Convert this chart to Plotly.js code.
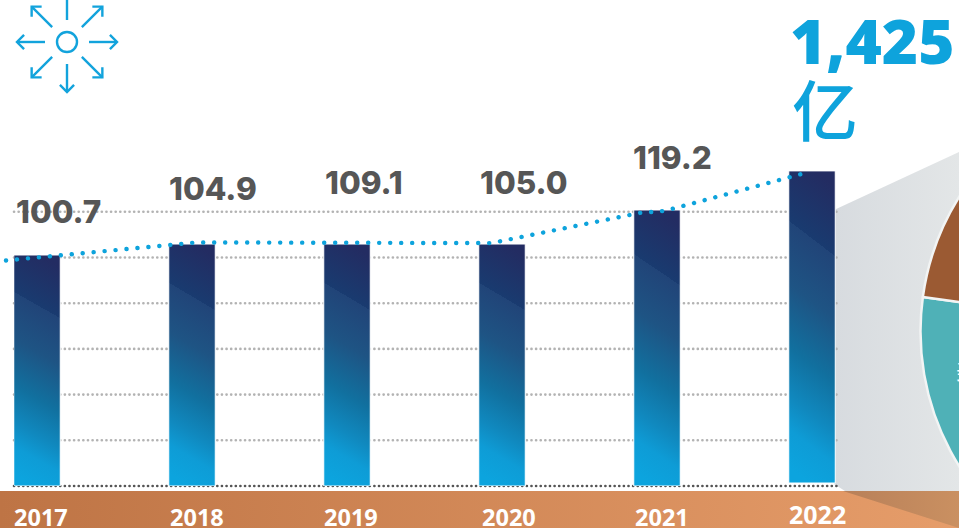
<!DOCTYPE html>
<html><head><meta charset="utf-8">
<script src="https://cdn.plot.ly/plotly-3.0.1.min.js"></script>
<style>html,body{margin:0;padding:0;width:959px;height:528px;overflow:hidden;background:#fff}#c{width:1500px;height:600px}</style>
</head><body><div id="c"></div>
<script>
// ---- data ----
const years = [2017, 2018, 2019, 2020, 2021, 2022];
const valueLabels = ['100.7', '104.9', '109.1', '105.0', '119.2'];
const barHeights = [101.1, 105.9, 105.9, 105.9, 120.8, 136.6];
const barBases = [0, 0, 0, 0, 0, 1.3];
const trendYears = [2016.8, 2017.16, 2017.86, 2018.03, 2019.93, 2020.89, 2021.05, 2021.93];
const trendValues = [98.7, 101.1, 105.5, 106.6, 106.3, 119.5, 120.4, 136.5];
const gridValues = [20, 40, 60, 80, 100, 120];
const totalLabel = '1,425';
const totalUnit = '亿';
const pieLabels = ['蓝', '棕', '其他'];
const pieValues = [40, 30, 30];

// ---- layout helpers (page pixels → paper) ----
const W = 1500, H = 600;
const px = x => x / W, py = y => 1 - y / H;
const pathOf = pts => 'M' + pts.map(p => px(p[0]) + ',' + py(p[1])).join('L');
const polygon = (pts, fill) => ({type: 'path', xref: 'paper', yref: 'paper', layer: 'below',
  path: pathOf(pts) + 'Z', fillcolor: fill, line: {width: 0}});
const stroke = pts => ({type: 'path', xref: 'paper', yref: 'paper', layer: 'above',
  path: pathOf(pts), line: {color: '#12a3dc', width: 2.4}});

// x axis: 2017 sits at px 37, one year = 155 px
const xAt = p => 2017 + (p - 37) / 155;
const shapes = [
  polygon([[0, 491], [959, 491], [959, 540], [0, 540]], '#d08a58'),          // 0 band
  polygon([[834, 210], [959, 152], [959, 491], [845, 491], [834, 484]], '#dde0e2'), // 1 fan
  polygon([[843, 491], [959, 491], [959, 528]], '#c28a5c'),                  // 2 fan over band
  {type: 'line', xref: 'paper', yref: 'paper', layer: 'below', x0: px(14), x1: px(838), y0: py(486), y1: py(486),
    line: {color: '#555', width: 2.6, dash: '2px,2.67px'}}
];
// icon: ring and eight arrows
const cx = 67, cy = 42;
shapes.push({type: 'circle', xref: 'paper', yref: 'paper', layer: 'above',
  x0: px(cx - 10), x1: px(cx + 10), y0: py(cy + 10), y1: py(cy - 10), line: {color: '#12a3dc', width: 2.4}});
for (let i = 0; i < 8; i++) {
  const a = i * Math.PI / 4, ux = Math.cos(a), uy = Math.sin(a);
  const R0 = i % 2 ? 21 : 22, R1 = 50;
  const tip = [cx + ux * R1, cy + uy * R1];
  shapes.push(stroke([[cx + ux * R0, cy + uy * R0], tip]));
  const leg = s => { const b = a + Math.PI + s * Math.PI / 4; return [tip[0] + Math.cos(b) * 10, tip[1] + Math.sin(b) * 10]; };
  shapes.push(stroke([leg(1), tip, leg(-1)]));
}

// label offsets from the bar centre (px) and text rows
const valueShiftX = [21, 20.5, 16.5, 21.5, 15.5];
const valueRowY = [212, 189, 182, 182.5, 157];
const yearShiftX = [3.5, 4.5, 3.5, 6.5, 4.5, 5.5];
const annotations = [];
valueLabels.forEach((t, i) => annotations.push({text: t, xref: 'x', x: years[i], xshift: valueShiftX[i],
  yref: 'paper', y: py(valueRowY[i]), showarrow: false, xanchor: 'center', yanchor: 'middle',
  font: {family: 'Inter', size: 31.5, color: '#565656', weight: 800}}));
years.forEach((t, i) => annotations.push({text: String(t), xref: 'x', x: t, xshift: yearShiftX[i],
  yref: 'paper', y: py(i === 5 ? 514 : 517), showarrow: false, xanchor: 'center', yanchor: 'middle',
  font: {family: 'Noto Sans', size: i === 5 ? 25 : 23.5, color: '#fff', weight: 700}}));
annotations.push({text: totalLabel, xref: 'paper', yref: 'paper', x: px(872), y: py(40), showarrow: false,
  xanchor: 'center', yanchor: 'middle', font: {family: 'Noto Sans', size: 62, color: '#0ea3dc', weight: 900}});
annotations.push({text: totalUnit, xref: 'paper', yref: 'paper', x: px(825), y: py(107), showarrow: false,
  xanchor: 'center', yanchor: 'middle', font: {family: 'Noto Sans CJK SC', size: 66, color: '#0ea3dc', weight: 500}});
annotations.push({text: '美', xref: 'paper', yref: 'paper', x: px(967), y: py(369), showarrow: false,
  xanchor: 'center', yanchor: 'middle', font: {family: 'Noto Sans CJK SC', size: 23, color: '#fff'}});

const traces = [
  {type: 'pie', labels: pieLabels, values: pieValues, sort: false, direction: 'clockwise', rotation: 133.8,
   domain: {x: [px(920.5), px(1427.5)], y: [py(585), py(78)]}, textinfo: 'none', hoverinfo: 'skip',
   marker: {colors: ['#4fb1b7', '#9b5a33', '#c9ced2'], line: {color: '#f2f4f4', width: 2.5}}},
  {type: 'bar', x: years, y: barHeights, base: barBases, width: 0.3, hoverinfo: 'skip',
   marker: {color: '#1b4f82', line: {color: '#fff', width: 1}}},
  {type: 'scatter', mode: 'lines', x: trendYears, y: trendValues, xaxis: 'x2', yaxis: 'y2', hoverinfo: 'skip',
   line: {color: '#0ea3dc', width: 4.4, dash: '0.1px,11px'}}
];

const hidden = {showgrid: false, zeroline: false, showline: false, showticklabels: false, ticks: ''};
const layout = {
  width: W, height: H, margin: {l: 0, r: 0, t: 0, b: 0, pad: 0},
  paper_bgcolor: '#fff', plot_bgcolor: 'rgba(0,0,0,0)', showlegend: false,
  xaxis: {...hidden, type: 'linear', range: [xAt(14), xAt(838)], domain: [px(14), px(838)]},
  yaxis: {range: [0, 150], domain: [py(486), py(143.25)], tickmode: 'array', tickvals: gridValues,
    showticklabels: false, ticks: '', zeroline: false, showline: false,
    showgrid: true, gridcolor: '#b3b3b3', gridwidth: 2.6, griddash: '2px,2.67px'},
  // the trend line runs on past the left end of the grid
  xaxis2: {...hidden, type: 'linear', anchor: 'y2', range: [xAt(0), xAt(838)], domain: [0, px(838)]},
  yaxis2: {...hidden, anchor: 'x2', range: [0, 150], domain: [py(486), py(143.25)]},
  shapes, annotations
};

Plotly.newPlot('c', traces, layout, {displayModeBar: false, staticPlot: true}).then(gd => {
  const NS = 'http://www.w3.org/2000/svg';
  const svg = gd.querySelector('svg.main-svg');
  const defs = document.createElementNS(NS, 'defs');
  const grad = (id, v, stops) => {
    const g = document.createElementNS(NS, 'linearGradient');
    g.id = id;
    ['x1', 'y1', 'x2', 'y2'].forEach((k, i) => g.setAttribute(k, v[i]));
    stops.forEach(s => {
      const e = document.createElementNS(NS, 'stop');
      e.setAttribute('offset', s[0]); e.setAttribute('stop-color', s[1]);
      g.appendChild(e);
    });
    defs.appendChild(g);
  };
  grad('gBar', [0.557, 0, 0.443, 1], [[0, '#232c62'], [0.22, '#193b70'], [0.22, '#214478'], [0.42, '#1e5484'], [0.62, '#11709f'], [0.78, '#1089bf'], [0.88, '#0e9cd6'], [1, '#0ca4de']]);
  grad('gBand', [0, 0, 1, 0], [[0, '#be7445'], [1, '#e69d6a']]);
  grad('gFan', [0, 0, 1, 0], [[0, '#d7dbdf'], [1, '#e3e6e7']]);
  grad('gFanB', [0, 0, 1, 0], [[0, '#b88059'], [1, '#ca9061']]);
  svg.appendChild(defs);
  gd.querySelectorAll('.bars .point path').forEach(p => { p.style.fill = 'url(#gBar)'; });
  const shapeAt = i => gd.querySelector('.shapelayer path[data-index="' + i + '"]');
  ['gBand', 'gFan', 'gFanB'].forEach((id, i) => { const s = shapeAt(i); if (s) s.style.fill = 'url(#' + id + ')'; });
  const roundDots = (p, pitch) => { p.style.strokeLinecap = 'round'; p.style.strokeDasharray = '0.1px,' + (pitch - 0.1) + 'px'; p.style.shapeRendering = 'geometricPrecision'; };
  gd.querySelectorAll('.scatterlayer .js-line').forEach(p => roundDots(p, 11));
  gd.querySelectorAll('.gridlayer path.ygrid').forEach(p => { p.classList.remove('crisp'); roundDots(p, 4.62); });
  const base = shapeAt(3);
  if (base) { base.classList.remove('crisp'); roundDots(base, 4.62); }
});
</script></body></html>
